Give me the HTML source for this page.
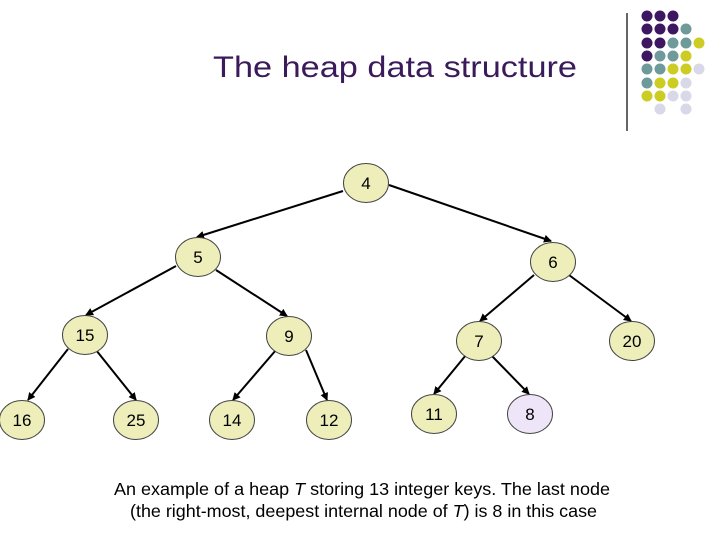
<!DOCTYPE html>
<html><head><style>
body{margin:0;width:720px;height:540px;background:#fff;overflow:hidden;font-family:"Liberation Sans",sans-serif;}
</style></head><body>
<svg width="720" height="540" xmlns="http://www.w3.org/2000/svg" font-family="Liberation Sans, sans-serif">
<defs><marker id="a" markerWidth="8" markerHeight="8" refX="7" refY="4" orient="auto" markerUnits="userSpaceOnUse"><path d="M0,0 L8,4 L0,8 z" fill="#000"/></marker></defs>
<text x="213" y="77" font-size="30" textLength="364" lengthAdjust="spacingAndGlyphs" fill="#3a1a5a">The heap data structure</text>
<line x1="627" y1="13" x2="627" y2="131" stroke="#000" stroke-width="1.2"/>
<g>
<circle cx="647" cy="16" r="5.5" fill="#3d1860"/><circle cx="660" cy="16" r="5.5" fill="#3d1860"/><circle cx="673" cy="16" r="5.5" fill="#3d1860"/>
<circle cx="647" cy="29" r="5.5" fill="#3d1860"/><circle cx="660" cy="29" r="5.5" fill="#3d1860"/><circle cx="673" cy="29" r="5.5" fill="#3d1860"/><circle cx="686" cy="29" r="5.5" fill="#6e9a9a"/>
<circle cx="647" cy="43" r="5.5" fill="#3d1860"/><circle cx="660" cy="43" r="5.5" fill="#3d1860"/><circle cx="673" cy="43" r="5.5" fill="#6e9a9a"/><circle cx="686" cy="43" r="5.5" fill="#6e9a9a"/><circle cx="699" cy="43" r="5.5" fill="#cccc22"/>
<circle cx="647" cy="56" r="5.5" fill="#3d1860"/><circle cx="660" cy="56" r="5.5" fill="#6e9a9a"/><circle cx="673" cy="56" r="5.5" fill="#6e9a9a"/><circle cx="686" cy="56" r="5.5" fill="#cccc22"/>
<circle cx="647" cy="69" r="5.5" fill="#6e9a9a"/><circle cx="660" cy="69" r="5.5" fill="#6e9a9a"/><circle cx="673" cy="69" r="5.5" fill="#cccc22"/><circle cx="686" cy="69" r="5.5" fill="#cccc22"/><circle cx="699" cy="69" r="5.5" fill="#d8d8e8"/>
<circle cx="647" cy="83" r="5.5" fill="#6e9a9a"/><circle cx="660" cy="83" r="5.5" fill="#cccc22"/><circle cx="673" cy="83" r="5.5" fill="#cccc22"/><circle cx="686" cy="83" r="5.5" fill="#d8d8e8"/>
<circle cx="647" cy="96" r="5.5" fill="#cccc22"/><circle cx="660" cy="96" r="5.5" fill="#cccc22"/><circle cx="673" cy="96" r="5.5" fill="#d8d8e8"/><circle cx="686" cy="96" r="5.5" fill="#d8d8e8"/>
<circle cx="660" cy="109" r="5.5" fill="#d8d8e8"/><circle cx="686" cy="109" r="5.5" fill="#d8d8e8"/>
</g>
<g stroke="#000" stroke-width="2" marker-end="url(#a)">
<line x1="343" y1="191" x2="197" y2="237"/>
<line x1="389" y1="185" x2="551" y2="241"/>
<line x1="176" y1="266" x2="86" y2="315"/>
<line x1="216" y1="270" x2="287" y2="316"/>
<line x1="534" y1="275" x2="480" y2="321"/>
<line x1="569" y1="275" x2="631" y2="321"/>
<line x1="68" y1="349" x2="28" y2="400"/>
<line x1="96" y1="350" x2="136" y2="400"/>
<line x1="276" y1="350" x2="233" y2="400"/>
<line x1="306" y1="350" x2="327" y2="400"/>
<line x1="466" y1="355" x2="434" y2="394"/>
<line x1="491" y1="355" x2="529" y2="394"/>
</g>
<g stroke="#444" stroke-width="1" fill="#eeeebb">
<ellipse cx="366" cy="183" rx="22.5" ry="19.5"/>
<ellipse cx="198" cy="257" rx="22.5" ry="19.5"/>
<ellipse cx="553" cy="262" rx="22.5" ry="19.5"/>
<ellipse cx="85" cy="335" rx="22.5" ry="19.5"/>
<ellipse cx="289" cy="336" rx="22.5" ry="19.5"/>
<ellipse cx="479" cy="341" rx="22.5" ry="19.5"/>
<ellipse cx="632" cy="341" rx="22.5" ry="19.5"/>
<ellipse cx="22" cy="420" rx="22.5" ry="19.5"/>
<ellipse cx="136" cy="420" rx="22.5" ry="19.5"/>
<ellipse cx="232" cy="420" rx="22.5" ry="19.5"/>
<ellipse cx="329" cy="420" rx="22.5" ry="19.5"/>
<ellipse cx="434" cy="414" rx="22.5" ry="19.5"/>
<ellipse cx="530" cy="414" rx="22.5" ry="19.5" fill="#eee6f8"/>
</g>
<g font-size="17" text-anchor="middle" fill="#000">
<text x="366" y="189">4</text><text x="198" y="263">5</text><text x="553" y="268">6</text>
<text x="85" y="341">15</text><text x="289" y="342">9</text><text x="479" y="347">7</text><text x="632" y="347">20</text>
<text x="22" y="426">16</text><text x="136" y="426">25</text><text x="232" y="426">14</text><text x="329" y="426">12</text>
<text x="434" y="420">11</text><text x="530" y="420">8</text>
</g>
<g font-size="17.5" fill="#000">
<text x="114" y="495" textLength="496" lengthAdjust="spacingAndGlyphs">An example of a heap <tspan font-style="italic">T</tspan> storing 13 integer keys. The last node</text>
<text x="130" y="517" textLength="467" lengthAdjust="spacingAndGlyphs">(the right-most, deepest internal node of <tspan font-style="italic">T</tspan>) is 8 in this case</text>
</g>
</svg>
</body></html>
